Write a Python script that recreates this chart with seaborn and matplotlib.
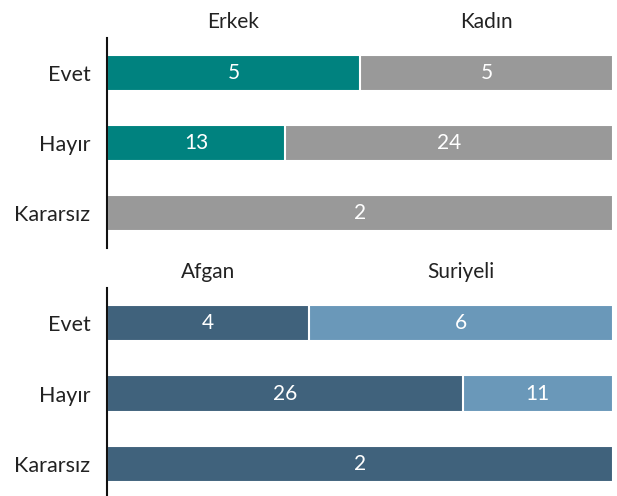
import numpy as np
import pandas as pd
import matplotlib
matplotlib.use("Agg")
import matplotlib.pyplot as plt
import seaborn as sns

# 数据
answers = ["Evet", "Hayır", "Kararsız"]
gender_groups = ["Erkek", "Kadın"]
erkek = [5, 13, 0]
kadin = [5, 24, 2]
origin_groups = ["Afgan", "Suriyeli"]
afgan = [4, 26, 2]
suriyeli = [6, 11, 0]

gender_colors = ["#00827f", "#999999"]
origin_colors = ["#40627c", "#6a98b9"]

sns.set_theme(style="white")
plt.rcParams["font.family"] = ["Lato", "DejaVu Sans"]


def stacked_panel(ax, first, second, groups, colors):
    first = np.array(first, dtype=float)
    second = np.array(second, dtype=float)
    total = first + second
    df = pd.DataFrame({
        "answer": answers,
        "first": first / total,
        "full": np.ones(len(answers)),
    })
    # 背景整条（第二组），再叠加第一组
    sns.barplot(data=df, x="full", y="answer", color=colors[1], width=0.52,
                edgecolor="white", linewidth=1.5, ax=ax, saturation=1)
    sns.barplot(data=df, x="first", y="answer", color=colors[0], width=0.52,
                edgecolor="white", linewidth=1.5, ax=ax, saturation=1)

    for i in range(len(answers)):
        p = first[i] / total[i]
        if first[i] > 0:
            ax.text(p / 2, i, f"{int(first[i])}", ha="center", va="center",
                    color="white", fontsize=15)
        if second[i] > 0:
            ax.text(p + (1 - p) / 2, i, f"{int(second[i])}", ha="center",
                    va="center", color="white", fontsize=15)

    # 组名标题，放在第一行各段的中间
    p0 = first[0] / total[0]
    ax.text(p0 / 2, -0.73, groups[0], ha="center", va="center",
            fontsize=15, color="#222222", clip_on=False)
    ax.text(p0 + (1 - p0) / 2, -0.73, groups[1], ha="center", va="center",
            fontsize=15, color="#222222", clip_on=False)

    ax.set_xlim(0, 1)
    ax.set_ylim(2.5, -0.5)
    ax.set_xlabel("")
    ax.set_ylabel("")
    ax.set_xticks([])
    ax.tick_params(axis="y", length=0, pad=12, labelsize=15.5, labelcolor="#222222")
    for s in ["top", "right", "bottom"]:
        ax.spines[s].set_visible(False)
    ax.spines["left"].set_color("#111111")
    ax.spines["left"].set_linewidth(1.5)


fig = plt.figure(figsize=(6.17, 4.96), dpi=100)
ax1 = fig.add_axes([107 / 617, 0.5, 506 / 617, 210 / 496])
ax2 = fig.add_axes([107 / 617, -3 / 496, 506 / 617, 211 / 496])

stacked_panel(ax1, erkek, kadin, gender_groups, gender_colors)
stacked_panel(ax2, afgan, suriyeli, origin_groups, origin_colors)

plt.savefig("out.png", dpi=100)
plt.close(fig)
